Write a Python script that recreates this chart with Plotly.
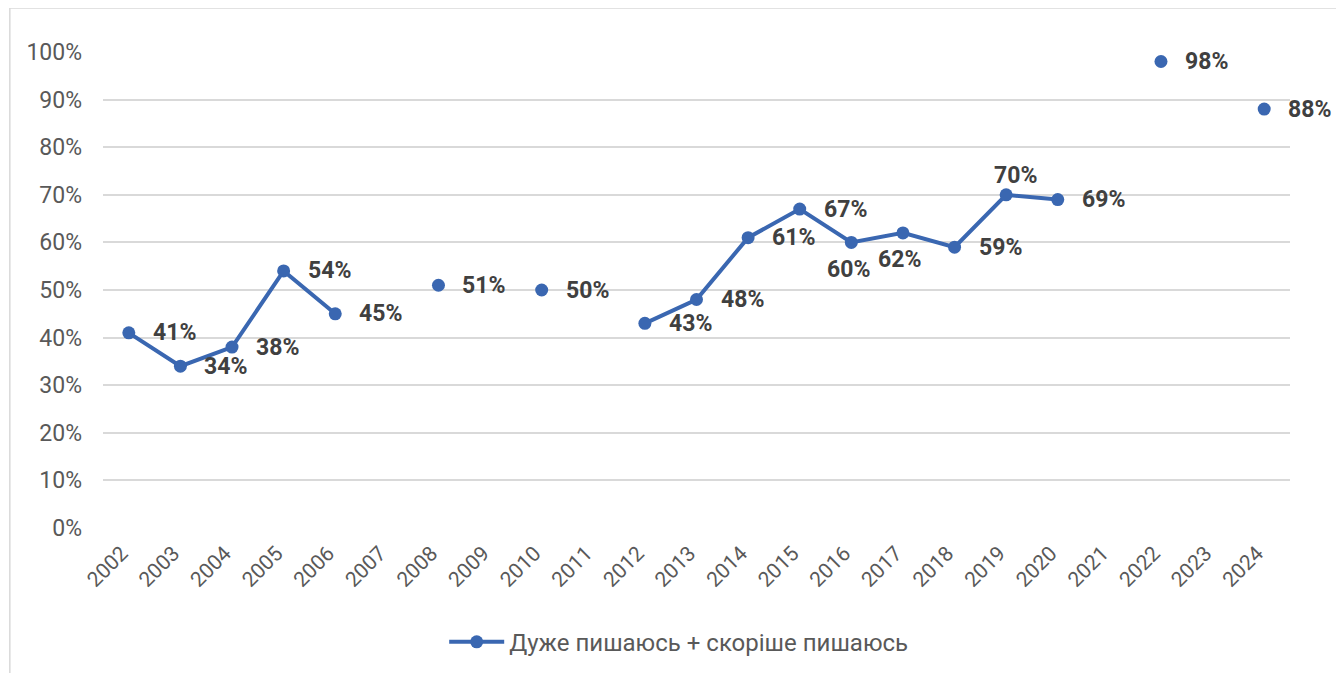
import plotly.graph_objects as go

years = ["2002", "2003", "2004", "2005", "2006", "2007", "2008", "2009", "2010", "2011", "2012",
         "2013", "2014", "2015", "2016", "2017", "2018", "2019", "2020", "2021", "2022", "2023", "2024"]
values = [0.41, 0.34, 0.38, 0.54, 0.45, None, 0.51, None, 0.50, None, 0.43,
          0.48, 0.61, 0.67, 0.60, 0.62, 0.59, 0.70, 0.69, None, 0.98, None, 0.88]
series_name = "Дуже пишаюсь + скоріше пишаюсь"
y_ticks = [0, 0.1, 0.2, 0.3, 0.4, 0.5, 0.6, 0.7, 0.8, 0.9, 1.0]
y_tick_labels = ["0%", "10%", "20%", "30%", "40%", "50%", "60%", "70%", "80%", "90%", "100%"]

BLUE = "#3A67B1"
FONT = "Roboto"

fig = go.Figure()
fig.add_trace(go.Scatter(
    x=years, y=values, name=series_name, mode="lines+markers",
    line=dict(color=BLUE, width=4), marker=dict(color=BLUE, size=13),
    connectgaps=False, cliponaxis=False,
))

# label placement (style only)
below = {"2016", "2017"}
above = {"2019"}
for i, (yr, v) in enumerate(zip(years, values)):
    if v is None:
        continue
    txt = f"{round(v * 100)}%"
    if yr in below:
        kw = dict(xanchor="center", yanchor="middle", xshift=-3, yshift=-27)
    elif yr in above:
        kw = dict(xanchor="center", yanchor="middle", xshift=9, yshift=19)
    else:
        kw = dict(xanchor="left", yanchor="middle", xshift=22, yshift=0)
    fig.add_annotation(x=i, y=v, xref="x", yref="y", text=f"<b>{txt}</b>", showarrow=False,
                       font=dict(family=FONT, size=23, color="#404040"), **kw)

# outer chart frame
fig.add_shape(type="rect", xref="paper", yref="paper",
              x0=-0.0785, x1=1.2, y0=-0.5, y1=1.0924,
              line=dict(color="#D9D9D9", width=1.5), fillcolor="rgba(0,0,0,0)", layer="below")

fig.update_layout(
    width=1344, height=673,
    margin=dict(l=95, r=62, t=44, b=153),
    paper_bgcolor="white", plot_bgcolor="white",
    font=dict(family=FONT, color="#595959"),
    showlegend=True,
    legend=dict(orientation="h", x=0.485, xanchor="center", y=-0.24, yanchor="middle",
                font=dict(family=FONT, size=24, color="#595959"), itemwidth=55),
    xaxis=dict(type="category", range=[-0.5, 22.5], tickangle=-45, showgrid=False,
               showline=False, ticks="", ticklabelstandoff=8, ticklabelshift=-7,
               tickfont=dict(family=FONT, size=21, color="#595959")),
    yaxis=dict(range=[0, 1.0], tickvals=y_ticks, ticktext=y_tick_labels, showgrid=True,
               gridcolor="#D9D9D9", gridwidth=1.5, zeroline=False, showline=False, ticks="",
               ticklabelstandoff=20,
               tickfont=dict(family=FONT, size=23, color="#595959")),
)

fig.write_html("out.html")
